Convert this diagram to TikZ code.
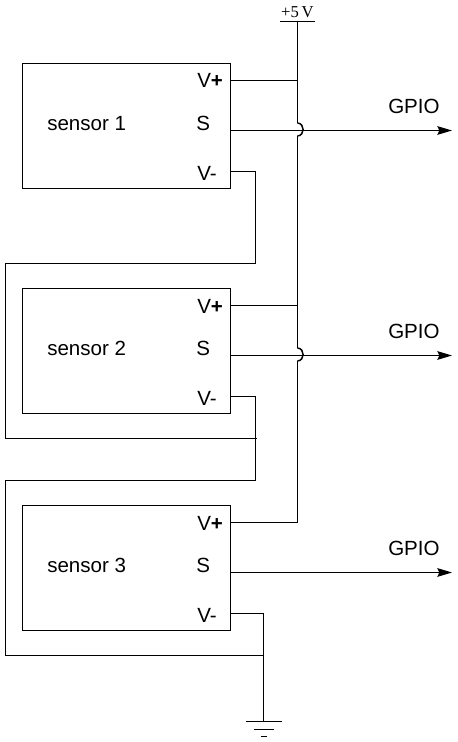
\documentclass[tikz,border=0pt]{standalone}
\usepackage{fontspec}
\setmainfont{Liberation Sans}
\newfontfamily\serifsmall{Liberation Serif}
\usetikzlibrary{arrows.meta}
\tikzset{
  wire/.style={line width=0.8pt,line join=miter},
  sensorbox/.style={draw,line width=0.8pt,minimum width=155.6pt,minimum height=93.6pt,inner sep=0pt,anchor=north west},
  label/.style={anchor=base west,inner sep=0pt,font=\fontsize{15.4}{15.4}\selectfont},
  sig/.style={wire,-{Stealth[length=11pt,width=6.5pt,inset=1.5pt]}},
  jump/.style={line width=1.1pt},
}
\begin{document}
\begin{tikzpicture}[x=0.75pt,y=-0.75pt]
\useasboundingbox (0,0) rectangle (457,742);
% sensors
\node[sensorbox] (s1) at (22.2,63.2) {};
\node[sensorbox] (s2) at (22.2,288.2) {};
\node[sensorbox] (s3) at (22.2,505.2) {};
\foreach \n/\y/\t in {1/0/sensor 1,2/225/sensor 2,3/442/sensor 3}{
  \begin{scope}[shift={(0,\y)}]
    \node[label] (name\n) at (47,130) {\t};
    \node[label] (vp\n) at (197,88) {V\textbf{+}};
    \node[label] (sl\n) at (196,130) {S};
    \node[label] (vm\n) at (197,180) {V-};
    \coordinate (pp\n) at (230.5,80.5);
    \coordinate (ps\n) at (230.5,130.5);
    \coordinate (pm\n) at (230.5,171.5);
    \coordinate (gp\n) at (452,130.5);
    \node[label] (gl\n) at (388,113.5) {GPIO};
    \draw[sig] (ps\n) -- (gp\n);
  \end{scope}
}
% +5V rail
\coordinate (railtop) at (297.5,21);
\coordinate (j1a) at (297.5,123);
\coordinate (j1b) at (297.5,136);
\coordinate (j2a) at (297.5,348);
\coordinate (j2b) at (297.5,361);
\coordinate (railend) at (297.5,521.5);
\node[anchor=base,inner sep=0pt,font=\serifsmall\fontsize{12.5}{13}\selectfont] (vcc) at (297.5,18) {+5\,V};
\coordinate (barl) at (280,21.5);
\coordinate (barr) at (315,21.5);
\draw[wire] (barl) -- (barr);
\draw[wire] (railtop) -- (j1a);
\draw[jump] (j1a) .. controls (305,123.5) and (305,135.5) .. (j1b);
\draw[wire] (j1b) -- (j2a);
\draw[jump] (j2a) .. controls (305,348.5) and (305,360.5) .. (j2b);
\draw[wire] (j2b) -- (railend);
\draw[wire] (pp1) -- (pp1 -| railtop);
\draw[wire] (pp2) -- (pp2 -| railtop);
\draw[wire] (pp3) -- (pp3 -| railtop);
% series chain
\coordinate (c1a) at (255.5,171.5);
\coordinate (c1b) at (255.5,263.5);
\coordinate (c1c) at (5.5,263.5);
\coordinate (c1d) at (5.5,438.5);
\coordinate (c1e) at (257,438.5);
\draw[wire] (pm1) -- (c1a) -- (c1b) -- (c1c) -- (c1d) -- (c1e);
\coordinate (c2a) at (255.5,396.5);
\coordinate (c2b) at (255.5,480.5);
\coordinate (c2c) at (5.5,480.5);
\coordinate (c2d) at (5.5,655.5);
\coordinate (c2e) at (263.5,655.5);
\draw[wire] (pm2) -- (c2a) -- (c2b) -- (c2c) -- (c2d) -- (c2e);
\coordinate (c3a) at (263.5,613.5);
\coordinate (gnd) at (263.5,722);
\draw[wire] (pm3) -- (c3a) -- (gnd);
% ground
\coordinate (g1l) at (246,721.5);
\coordinate (g1r) at (282,721.5);
\coordinate (g2l) at (254,729.5);
\coordinate (g2r) at (274,729.5);
\coordinate (g3l) at (261,736.5);
\coordinate (g3r) at (267,736.5);
\draw[wire] (g1l) -- (g1r);
\draw[wire] (g2l) -- (g2r);
\draw[wire] (g3l) -- (g3r);
\end{tikzpicture}
\end{document}
